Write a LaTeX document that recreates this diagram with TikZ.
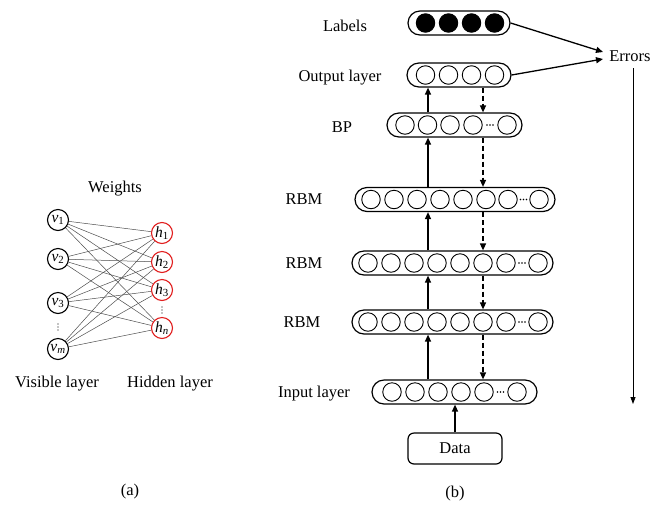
\documentclass[tikz,border=0pt]{standalone}
\usepackage{fontspec}
\setmainfont{Liberation Serif}
\usetikzlibrary{arrows.meta,calc}
\definecolor{hred}{RGB}{225,30,30}
\begin{document}
\begin{tikzpicture}[x=1pt,y=-1pt,
  txt/.style={font=\fontsize{16.5}{19}\selectfont, inner sep=0pt, text height=10.9pt, text depth=0pt},
  layerbox/.style={draw, line width=1.2pt, rounded corners=12pt, minimum height=24pt, inner sep=0pt},
  unit/.style={draw, circle, line width=0.9pt, minimum size=18.5pt, inner sep=0pt},
  labelunit/.style={unit, fill=black},
  uparrow/.style={line width=1.3pt, -{Triangle[length=7pt,width=6pt]}},
  downarrow/.style={uparrow, dash pattern=on 5pt off 3pt},
  vnode/.style={draw, circle, line width=1.1pt, minimum size=21pt, inner sep=0pt, font=\fontsize{15.5}{15.5}\selectfont},
  hnode/.style={vnode, draw=hred},
  edge/.style={line width=0.5pt, gray!60!black},
]
\useasboundingbox (0,0) rectangle (668,504);

% ---------------- (a) ----------------
\node[txt] (weights) at (115,187) {Weights};
\node[vnode] (v1) at (58,220) {\textit{v}\textsubscript{1}};
\node[vnode] (v2) at (58,259) {\textit{v}\textsubscript{2}};
\node[vnode] (v3) at (58,303) {\textit{v}\textsubscript{3}};
\node[vnode] (vm) at (58,349) {\textit{v}\textsubscript{\textit{m}}};
\node[hnode] (h1) at (162,233) {\textit{h}\textsubscript{1}};
\node[hnode] (h2) at (162,262) {\textit{h}\textsubscript{2}};
\node[hnode] (h3) at (162,290) {\textit{h}\textsubscript{3}};
\node[hnode] (hn) at (162,328) {\textit{h}\textsubscript{\textit{n}}};
\foreach \cx/\cy in {58/327, 162/310}
  \foreach \d in {-3,0,3}
    \fill (\cx,\cy+\d) circle (0.7pt);
\foreach \a in {v1,v2,v3,vm}
  \foreach \b in {h1,h2,h3,hn}
    \draw[edge] (\a) -- (\b);
\node[txt] (visible) at (57,382) {Visible layer};
\node[txt] (hidden) at (170,382) {Hidden layer};
\node[txt] (capa) at (130,490) {(a)};

% ---------------- (b) ----------------
\node[layerbox, minimum width=102pt] (labels) at (459,23) {};
\foreach \x [count=\i] in {425.5,448.5,471.5,494.5}
  \node[labelunit] (lab\i) at (\x,23) {};
\node[layerbox, minimum width=104pt] (output) at (459,75) {};
\foreach \x [count=\i] in {425.5,448.5,471.5,494.5}
  \node[unit] (out\i) at (\x,75) {};
\node[layerbox, minimum width=135pt] (bp) at (454.5,125) {};
\foreach \x [count=\i] in {405,427.5,450,473,507}
  \node[unit] (bp\i) at (\x,125) {};
\node[layerbox, minimum width=200pt] (rbma) at (455,199.5) {};
\foreach \x [count=\i] in {371,394,417,440,463,486,508,539}
  \node[unit] (ra\i) at (\x,199.5) {};
\node[layerbox, minimum width=201pt] (rbmb) at (452.5,263) {};
\foreach \x [count=\i] in {368,391,414,437,460,483,506,538}
  \node[unit] (rb\i) at (\x,263) {};
\node[layerbox, minimum width=201pt] (rbmc) at (452.5,322) {};
\foreach \x [count=\i] in {368,391,414,437,460,483,506,538}
  \node[unit] (rc\i) at (\x,322) {};
\node[layerbox, minimum width=165pt] (input) at (454.5,392) {};
\foreach \x [count=\i] in {392,415,438,461,484,517}
  \node[unit] (in\i) at (\x,392) {};
\node[draw, line width=1.2pt, rounded corners=6pt, minimum width=94pt, minimum height=31pt, inner sep=0pt, font=\fontsize{16.5}{19}\selectfont] (data) at (455,448.5) {Data};

% ellipsis dots
\foreach \cx/\cy in {490/125, 523.5/199.5, 522/263, 522/322, 500.5/392}
  \foreach \d in {-3,0,3}
    \fill (\cx+\d,\cy) circle (0.8pt);

% layer labels
\node[txt] (tlabels) at (345,26) {Labels};
\node[txt] (toutput) at (340,76) {Output layer};
\node[txt] (tbp) at (342,127) {BP};
\node[txt] (trbma) at (304,199) {RBM};
\node[txt] (trbmb) at (304,263) {RBM};
\node[txt] (trbmc) at (302,322) {RBM};
\node[txt] (tinput) at (314,392) {Input layer};
\node[txt] (errors) at (630,56) {Errors};
\node[txt] (capb) at (455,492) {(b)};

% arrows between layers
\coordinate (sx) at (428,0);
\coordinate (dx) at (483,0);
\draw[uparrow] (bp.north -| sx) -- (output.south -| sx);
\draw[downarrow] (output.south -| dx) -- (bp.north -| dx);
\draw[uparrow] (rbma.north -| sx) -- (bp.south -| sx);
\draw[downarrow] (bp.south -| dx) -- (rbma.north -| dx);
\draw[uparrow] (rbmb.north -| sx) -- (rbma.south -| sx);
\draw[downarrow] (rbma.south -| dx) -- (rbmb.north -| dx);
\draw[uparrow] (rbmc.north -| sx) -- (rbmb.south -| sx);
\draw[downarrow] (rbmb.south -| dx) -- (rbmc.north -| dx);
\draw[uparrow] (input.north -| sx) -- (rbmc.south -| sx);
\draw[downarrow] (rbmc.south -| dx) -- (input.north -| dx);
\draw[uparrow] (data.north) -- (data.north |- input.south);

% errors
\coordinate (ea) at (603,52);
\coordinate (eb) at (603,59);
\draw[uparrow] (labels.east) -- (ea);
\draw[uparrow] (output.east) -- (eb);
\coordinate (etop) at (633,68);
\coordinate (ebot) at (633,404);
\draw[line width=0.8pt, -{Triangle[length=7pt,width=5pt]}] (etop) -- (ebot);
\end{tikzpicture}
\end{document}
